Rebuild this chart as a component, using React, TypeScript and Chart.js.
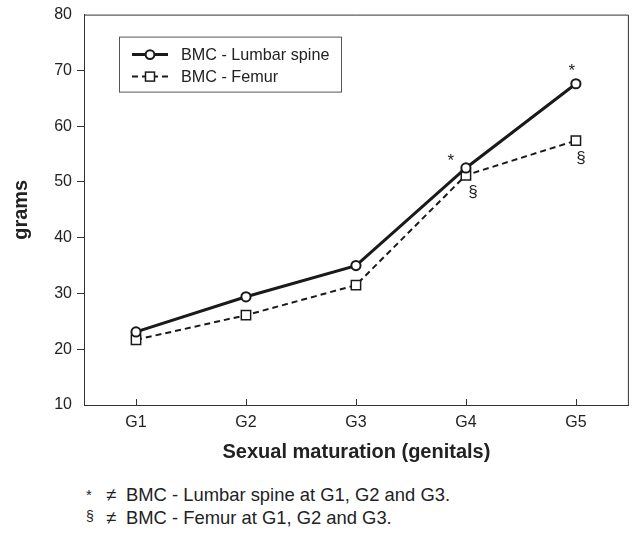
import React, { useEffect, useRef } from "react";
import { Chart, registerables } from "chart.js";

Chart.register(...registerables);

const FONT = "'Liberation Sans', Arial, Helvetica, sans-serif";
const TEXT = "#222222";
const INK = "#1a1a1a";

const categories = ["G1", "G2", "G3", "G4", "G5"];
const lumbarSpine = [23.1, 29.4, 35.0, 52.5, 67.6];
const femur = [21.7, 26.1, 31.5, 51.2, 57.4];
const lumbarMarks = ["", "", "", "*", "*"];
const femurMarks = ["", "", "", "§", "§"];
const yTicks = [10, 20, 30, 40, 50, 60, 70, 80];
const seriesNames = ["BMC - Lumbar spine", "BMC - Femur"];
const footnoteSymbols = ["*", "§"];
const footnoteTexts = [
  "BMC - Lumbar spine at G1, G2 and G3.",
  "BMC - Femur at G1, G2 and G3.",
];

// per-point label offsets (style only)
const markOffsets: Record<string, [number, number][]> = {
  "0": [[0, 0], [0, 0], [0, 0], [-15, -7], [-4, -12]],
  "1": [[0, 0], [0, 0], [0, 0], [7, 17], [5, 18]],
};

const decorPlugin = {
  id: "decor",
  afterDatasetsDraw(chart: any) {
    const { ctx } = chart;
    const marks = [lumbarMarks, femurMarks];
    ctx.save();
    ctx.fillStyle = TEXT;
    ctx.font = `17px ${FONT}`;
    ctx.textAlign = "center";
    ctx.textBaseline = "middle";
    marks.forEach((m, di) => {
      const meta = chart.getDatasetMeta(di);
      m.forEach((s, i) => {
        if (!s) return;
        const pt = meta.data[i];
        const [dx, dy] = markOffsets[String(di)][i];
        ctx.fillText(s, pt.x + dx, pt.y + dy);
      });
    });
    ctx.restore();
  },
  afterDraw(chart: any) {
    const { ctx, chartArea: a, scales } = chart;
    ctx.save();
    // frame (top & right)
    ctx.strokeStyle = "#333";
    ctx.lineWidth = 1;
    ctx.beginPath();
    ctx.moveTo(a.left, a.top + 0.5);
    ctx.lineTo(a.right - 0.5, a.top + 0.5);
    ctx.lineTo(a.right - 0.5, a.bottom);
    ctx.stroke();
    // inward x ticks
    categories.forEach((_, i) => {
      const x = Math.round(scales.x.getPixelForValue(i)) + 0.5;
      ctx.beginPath();
      ctx.moveTo(x, a.bottom);
      ctx.lineTo(x, a.bottom - 6);
      ctx.stroke();
    });
    // legend box
    const bx = a.left + 35;
    const by = a.top + 22;
    const bw = 222;
    const bh = 55;
    ctx.strokeStyle = "#555";
    ctx.lineWidth = 1;
    ctx.strokeRect(bx + 0.5, by + 0.5, bw, bh);
    const rows = [by + 18, by + 40];
    const lx1 = bx + 13;
    const lx2 = bx + 49;
    const mx = bx + 31;
    // row 1 solid + circle
    ctx.strokeStyle = INK;
    ctx.lineWidth = 3;
    ctx.beginPath();
    ctx.moveTo(lx1, rows[0]);
    ctx.lineTo(lx2, rows[0]);
    ctx.stroke();
    ctx.beginPath();
    ctx.arc(mx, rows[0], 4.4, 0, Math.PI * 2);
    ctx.fillStyle = "#fff";
    ctx.fill();
    ctx.lineWidth = 2;
    ctx.stroke();
    // row 2 dashed + square
    ctx.lineWidth = 2;
    ctx.setLineDash([6, 4]);
    ctx.beginPath();
    ctx.moveTo(lx1, rows[1]);
    ctx.lineTo(lx2, rows[1]);
    ctx.stroke();
    ctx.setLineDash([]);
    ctx.fillStyle = "#fff";
    ctx.fillRect(mx - 4.5, rows[1] - 4.5, 9, 9);
    ctx.lineWidth = 1.5;
    ctx.strokeRect(mx - 4.5, rows[1] - 4.5, 9, 9);
    ctx.fillStyle = TEXT;
    ctx.font = `16.2px ${FONT}`;
    ctx.textAlign = "left";
    ctx.textBaseline = "middle";
    seriesNames.forEach((n, i) => ctx.fillText(n, bx + 62, rows[i] + 1));
    ctx.restore();
  },
};

export default function App() {
  const ref = useRef<HTMLCanvasElement | null>(null);

  useEffect(() => {
    if (!ref.current) return;
    const chart = new Chart(ref.current, {
      type: "line",
      data: {
        datasets: [
          {
            label: seriesNames[0],
            data: categories.map((_, i) => ({ x: i, y: lumbarSpine[i] })),
            borderColor: INK,
            borderWidth: 3,
            pointStyle: "circle",
            pointRadius: 4.6,
            pointBorderWidth: 2,
            pointBackgroundColor: "#fff",
            pointBorderColor: INK,
            tension: 0,
          },
          {
            label: seriesNames[1],
            data: categories.map((_, i) => ({ x: i, y: femur[i] })),
            borderColor: INK,
            borderWidth: 2,
            borderDash: [6, 4],
            pointStyle: "rect",
            pointRadius: 6.6,
            pointBorderWidth: 1.5,
            pointBackgroundColor: "#fff",
            pointBorderColor: INK,
            tension: 0,
          },
        ],
      },
      options: {
        animation: false,
        responsive: false,
        maintainAspectRatio: false,
        layout: { padding: { top: 10, right: 3, left: 0, bottom: 0 } },
        plugins: { legend: { display: false }, tooltip: { enabled: false } },
        scales: {
          x: {
            type: "linear",
            min: -0.473,
            max: 4.482,
            afterFit: (s: any) => {
              s.height = 65;
            },
            afterBuildTicks: (s: any) => {
              s.ticks = categories.map((_, i) => ({ value: i }));
            },
            grid: { display: false, drawTicks: false },
            border: { display: true, color: "#333", width: 1 },
            ticks: {
              padding: 8,
              color: TEXT,
              font: { family: FONT, size: 16 },
              callback: (v: any) => categories[v] ?? "",
              maxRotation: 0,
              autoSkip: false,
            },
            title: {
              display: true,
              text: "Sexual maturation (genitals)",
              color: TEXT,
              font: { family: FONT, size: 20, weight: "bold" },
              padding: { top: 0, bottom: 6 },
            },
          },
          y: {
            min: 10,
            max: 80,
            afterFit: (s: any) => {
              s.width = 84;
            },
            afterBuildTicks: (s: any) => {
              s.ticks = yTicks.map((v) => ({ value: v }));
            },
            grid: {
              drawOnChartArea: false,
              drawTicks: true,
              tickLength: 7,
              color: (c: any) =>
                c.tick && (c.tick.value === 10 || c.tick.value === 80) ? "rgba(0,0,0,0)" : "#333",
            },
            border: { display: true, color: "#333", width: 1 },
            ticks: {
              padding: 5,
              color: TEXT,
              font: { family: FONT, size: 16 },
            },
            title: {
              display: true,
              text: "grams",
              color: TEXT,
              font: { family: FONT, size: 20, weight: "bold" },
              padding: { top: 9, bottom: 0 },
            },
          },
        },
      },
      plugins: [decorPlugin],
    } as any);
    return () => chart.destroy();
  }, []);

  const noteBase: React.CSSProperties = {
    position: "absolute",
    fontFamily: FONT,
    fontSize: "18.4px",
    lineHeight: "20px",
    color: TEXT,
    whiteSpace: "nowrap",
  };

  return (
    <div
      style={{
        position: "fixed",
        left: 0,
        top: 0,
        width: 637,
        height: 534,
        background: "#fff",
        overflow: "hidden",
      }}
    >
      <canvas ref={ref} width={637} height={470} style={{ position: "absolute", left: 0, top: 0, width: 637, height: 470 }} />
      {footnoteTexts.map((t, i) => (
        <React.Fragment key={i}>
          <span style={{ ...noteBase, left: 86, top: 485 + i * 23 - (i === 0 ? 0 : 2), fontSize: i === 0 ? "15px" : "14px" }}>
            {footnoteSymbols[i]}
          </span>
          <span style={{ ...noteBase, left: 106, top: 485 + i * 23 }}>≠</span>
          <span style={{ ...noteBase, left: 126, top: 485 + i * 23 }}>{t}</span>
        </React.Fragment>
      ))}
    </div>
  );
}
